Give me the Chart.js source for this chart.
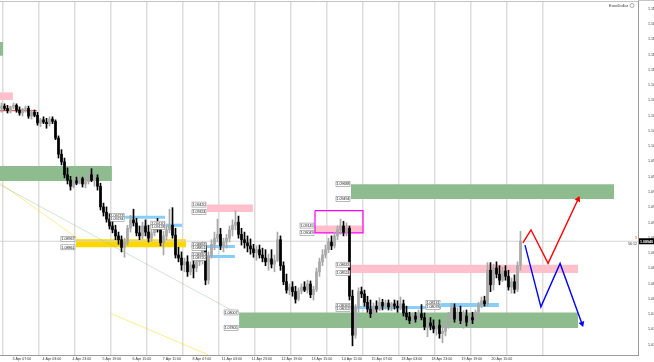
<!DOCTYPE html>
<html><head><meta charset="utf-8">
<script src="https://cdn.jsdelivr.net/npm/chart.js@4.4.1/dist/chart.umd.min.js"></script>
<style>html,body{margin:0;padding:0;background:#fff}canvas{display:block}</style>
</head><body>
<canvas id="c" width="654" height="362"></canvas>
<script>
// ---------- DATA ----------
// EURUSD H1, one candle per two hours
const opens=[1.1068,1.1071,1.1068,1.1065,1.1070,1.1072,1.1066,1.1062,1.1067,1.1068,
1.1058,1.1063,1.1059,1.1049,1.1053,1.1050,1.1048,1.1054,1.1051,1.1029,
1.1008,1.0998,1.0981,1.0974,1.0966,1.0973,1.0970,1.0976,1.0969,1.0972,
1.0981,1.0974,1.0977,1.0966,1.0939,1.0932,1.0923,1.0914,1.0909,1.0901,
1.0896,1.0886,1.0893,1.0911,1.0922,1.0918,1.0905,1.0901,1.0914,1.0906,
1.0898,1.0905,1.0915,1.0910,1.0892,1.0901,1.0909,1.0915,1.0902,1.0876,
1.0872,1.0863,1.0867,1.0854,1.0863,1.0859,1.0867,1.0872,1.0888,1.0843,
1.0875,1.0890,1.0898,1.0903,1.0888,1.0893,1.0898,1.0909,1.0915,1.0919,
1.0903,1.0896,1.0892,1.0888,1.0884,1.0879,1.0883,1.0876,1.0872,1.0867,
1.0871,1.0864,1.0869,1.0896,1.0862,1.0841,1.0830,1.0834,1.0828,1.0818,
1.0829,1.0834,1.0830,1.0838,1.0824,1.0831,1.0854,1.0867,1.0876,1.0883,
1.0893,1.0888,1.0901,1.0909,1.0914,1.0906,1.0911,1.0822,1.0771,1.0807,
1.0828,1.0825,1.0814,1.0805,1.0799,1.0809,1.0805,1.0814,1.0809,1.0813,
1.0808,1.0812,1.0809,1.0807,1.0812,1.0800,1.0795,1.0790,1.0796,1.0792,
1.0799,1.0794,1.0782,1.0787,1.0783,1.0779,1.0784,1.0773,1.0776,1.0784,
1.0797,1.0807,1.0792,1.0801,1.0790,1.0796,1.0788,1.0794,1.0791,1.0801,
1.0811,1.0816,1.0812,1.0856,1.0837,1.0859,1.0851,1.0843,1.0855,1.0848,
1.0834,1.0841,1.0831,1.0862];
const highs=[1.1075,1.1074,1.1072,1.1071,1.1075,1.1074,1.1070,1.1068,1.1071,1.1071,
1.1066,1.1066,1.1063,1.1055,1.1057,1.1055,1.1057,1.1057,1.1053,1.1032,
1.1014,1.1003,1.0990,1.0979,1.0976,1.0978,1.0979,1.0978,1.0976,1.0986,
1.0989,1.0982,1.0981,1.0970,1.0944,1.0939,1.0930,1.0920,1.0915,1.0906,
1.0901,1.0898,1.0915,1.0928,1.0936,1.0924,1.0914,1.0919,1.0922,1.0915,
1.0909,1.0920,1.0924,1.0917,1.0907,1.0914,1.0936,1.0938,1.0911,1.0886,
1.0880,1.0872,1.0875,1.0867,1.0869,1.0876,1.0876,1.0893,1.0892,1.0880,
1.0896,1.0906,1.0923,1.0911,1.0898,1.0903,1.0914,1.0922,1.0934,1.0927,
1.0911,1.0906,1.0901,1.0897,1.0890,1.0888,1.0889,1.0885,1.0883,1.0877,
1.0883,1.0876,1.0906,1.0901,1.0867,1.0851,1.0838,1.0841,1.0835,1.0833,
1.0838,1.0841,1.0843,1.0842,1.0835,1.0859,1.0872,1.0883,1.0889,1.0898,
1.0901,1.0906,1.0914,1.0923,1.0920,1.0918,1.0914,1.0830,1.0811,1.0833,
1.0834,1.0830,1.0822,1.0817,1.0813,1.0816,1.0820,1.0818,1.0817,1.0817,
1.0814,1.0817,1.0816,1.0821,1.0817,1.0809,1.0801,1.0800,1.0801,1.0804,
1.0811,1.0800,1.0795,1.0794,1.0791,1.0788,1.0791,1.0783,1.0788,1.0801,
1.0813,1.0812,1.0807,1.0809,1.0803,1.0804,1.0799,1.0801,1.0804,1.0814,
1.0821,1.0822,1.0866,1.0866,1.0864,1.0867,1.0862,1.0860,1.0862,1.0856,
1.0846,1.0850,1.0867,1.0907];
const lows=[1.1063,1.1066,1.1062,1.1062,1.1067,1.1063,1.1059,1.1058,1.1063,1.1055,
1.1054,1.1057,1.1046,1.1044,1.1048,1.1042,1.1045,1.1048,1.1027,1.1003,
1.0994,1.0977,1.0969,1.0961,1.0964,1.0968,1.0969,1.0965,1.0964,1.0969,
1.0972,1.0966,1.0961,1.0935,1.0927,1.0919,1.0910,1.0905,1.0896,1.0890,
1.0880,1.0873,1.0889,1.0906,1.0914,1.0901,1.0896,1.0897,1.0901,1.0893,
1.0894,1.0901,1.0906,1.0888,1.0876,1.0896,1.0905,1.0898,1.0872,1.0867,
1.0856,1.0854,1.0848,1.0850,1.0846,1.0854,1.0862,1.0864,1.0837,1.0838,
1.0872,1.0883,1.0893,1.0883,1.0880,1.0885,1.0893,1.0901,1.0909,1.0898,
1.0889,1.0885,1.0880,1.0877,1.0873,1.0869,1.0872,1.0867,1.0862,1.0856,
1.0859,1.0854,1.0867,1.0856,1.0837,1.0826,1.0824,1.0822,1.0813,1.0816,
1.0825,1.0828,1.0826,1.0820,1.0817,1.0828,1.0848,1.0862,1.0872,1.0879,
1.0883,1.0885,1.0896,1.0903,1.0901,1.0901,1.0817,1.0757,1.0767,1.0801,
1.0820,1.0809,1.0801,1.0794,1.0796,1.0801,1.0803,1.0804,1.0805,1.0804,
1.0803,1.0805,1.0801,1.0804,1.0796,1.0791,1.0786,1.0786,1.0788,1.0787,
1.0791,1.0778,1.0769,1.0778,1.0774,1.0771,1.0767,1.0761,1.0770,1.0780,
1.0793,1.0788,1.0784,1.0786,1.0780,1.0783,1.0782,1.0786,1.0788,1.0797,
1.0807,1.0809,1.0809,1.0828,1.0830,1.0846,1.0837,1.0841,1.0843,1.0830,
1.0826,1.0826,1.0828,1.0856];
const closes=[1.1071,1.1068,1.1065,1.1070,1.1072,1.1066,1.1062,1.1067,1.1068,1.1058,
1.1063,1.1059,1.1049,1.1053,1.1050,1.1048,1.1054,1.1051,1.1029,1.1008,
1.0998,1.0981,1.0974,1.0966,1.0973,1.0970,1.0976,1.0969,1.0972,1.0981,
1.0974,1.0977,1.0966,1.0939,1.0932,1.0923,1.0914,1.0909,1.0901,1.0896,
1.0886,1.0893,1.0911,1.0922,1.0918,1.0905,1.0901,1.0914,1.0906,1.0898,
1.0905,1.0915,1.0910,1.0892,1.0901,1.0909,1.0915,1.0902,1.0876,1.0872,
1.0863,1.0867,1.0854,1.0863,1.0859,1.0867,1.0872,1.0888,1.0843,1.0875,
1.0890,1.0898,1.0903,1.0888,1.0893,1.0898,1.0909,1.0915,1.0919,1.0903,
1.0896,1.0892,1.0888,1.0884,1.0879,1.0883,1.0876,1.0872,1.0867,1.0871,
1.0864,1.0869,1.0896,1.0862,1.0841,1.0830,1.0834,1.0828,1.0818,1.0829,
1.0834,1.0830,1.0838,1.0824,1.0831,1.0854,1.0867,1.0876,1.0883,1.0893,
1.0888,1.0901,1.0909,1.0914,1.0906,1.0911,1.0822,1.0771,1.0807,1.0828,
1.0825,1.0814,1.0805,1.0799,1.0809,1.0805,1.0814,1.0809,1.0813,1.0808,
1.0812,1.0809,1.0807,1.0812,1.0800,1.0795,1.0790,1.0796,1.0792,1.0799,
1.0794,1.0782,1.0787,1.0783,1.0779,1.0784,1.0773,1.0776,1.0784,1.0797,
1.0807,1.0792,1.0801,1.0790,1.0796,1.0788,1.0794,1.0791,1.0801,1.0811,
1.0816,1.0812,1.0856,1.0837,1.0859,1.0851,1.0843,1.0855,1.0848,1.0834,
1.0841,1.0831,1.0862,1.0894];

// time axis labels (at candle index)
const timeLabels=["3 Apr 07:00","4 Apr 03:00","4 Apr 23:00","5 Apr 19:00","6 Apr 15:00","7 Apr 11:00","8 Apr 07:00","11 Apr 03:00","11 Apr 23:00","12 Apr 19:00","13 Apr 15:00","14 Apr 11:00","15 Apr 07:00","18 Apr 03:00","18 Apr 23:00","19 Apr 19:00","20 Apr 15:00"];
const timeLabelAt=[6.8,16.8,26.8,36.8,46.8,56.8,66.8,76.8,86.8,96.8,106.8,116.8,126.8,136.8,146.8,156.8,166.8];
const gridAt=[0.5,12.5,24.5,36.5,48.5,60.5,72.5,84.5,96.5,108.5,120.5,132.5,144.5,156.5,168.5,180.5];
const priceTicks=[1.11985,1.11785,1.11585,1.11385,1.11185,1.10985,1.10785,1.10585,1.10385,1.10185,1.09985,1.09785,1.09585,1.09385,1.09185,1.08985,1.08785,1.08585,1.08385,1.08185,1.07985,1.07785,1.07585];

// zones (start/end in candle index, price high/low)
const zoneStart=[-0.5,-0.5,-0.5,24.8,41.2,54.8,68.5,68.5,68.5,104.5,116.5,116.5,116.5,146.5,79.2];
const zoneEnd=[0.5,3.8,36.8,61.5,54.5,60.2,83.8,77.8,77.8,120.5,204.2,192.2,146.5,165.8,192.2];
const zoneHigh=[1.11550,1.10890,1.09925,1.08967,1.09273,1.09170,1.09420,1.08891,1.08760,1.09145,1.09688,1.08633,1.08092,1.08131,1.08007];
const zoneLow=[1.11370,1.10790,1.09729,1.08861,1.09234,1.09128,1.09324,1.08851,1.08720,1.09049,1.09494,1.08524,1.08052,1.08078,1.07805];
const zoneKind=["green","pink","green","gold","blue","blue","pink","blue","blue","pink","green","pink","blue","blue","green"];
const zoneTagged=[0,0,0,1,1,1,1,1,1,1,1,1,1,1,1];

// frame around the last supply zone
const frameStart=104.5, frameEnd=120.5, frameHigh=1.09340, frameLow=1.09049;

// trend lines
const trendGreenX=[-0.5,77.8], trendGreenY=[1.09680,1.08013];
const trendGold1X=[-0.5,25.2], trendGold1Y=[1.09703,1.08982];
const trendGold2X=[36.2,69.0], trendGold2Y=[1.07999,1.07450];
const redLevelX=[-0.5,11.8], redLevelY=[1.1065,1.1065];

// projected paths
const bullPathX=[173.8,176.5,182.2,192.2], bullPathY=[1.0892,1.0909,1.0865,1.0949];
const bearPathX=[174.5,179.8,186.2,193.5], bearPathY=[1.0889,1.0808,1.0865,1.0786];

// ---------- STYLE ----------
const palette={green:'rgb(143,188,143)',pink:'rgb(255,192,203)',gold:'rgb(255,215,0)',blue:'rgb(135,206,250)'};
const BULL='#a8a8a8', BEAR='#000000';
const FONT='"Liberation Sans", "DejaVu Sans", sans-serif';
const X_MIN=-0.5, X_MAX=212.17, Y_MIN=1.0745, Y_MAX=1.12087;

const pts=(xs,ys)=>xs.map((x,i)=>({x:x,y:ys[i]}));
const datasets=[];

zoneStart.forEach((s,i)=>{
  datasets.push({type:'line',data:[{x:s,y:zoneHigh[i]},{x:zoneEnd[i],y:zoneHigh[i]}],
    fill:{value:zoneLow[i]},backgroundColor:palette[zoneKind[i]],borderWidth:0,pointRadius:0,order:20});
});
datasets.push({type:'line',data:[{x:frameStart,y:frameHigh},{x:frameEnd,y:frameHigh},{x:frameEnd,y:frameLow},{x:frameStart,y:frameLow},{x:frameStart,y:frameHigh}],
  borderColor:'#ff00ff',borderWidth:1.2,pointRadius:0,fill:false,order:19});
datasets.push({type:'line',data:pts(trendGreenX,trendGreenY),borderColor:'rgba(143,188,143,0.4)',borderWidth:1,pointRadius:0,fill:false,order:18});
datasets.push({type:'line',data:pts(trendGold1X,trendGold1Y),borderColor:'rgba(255,215,0,0.45)',borderWidth:1,pointRadius:0,fill:false,order:18});
datasets.push({type:'line',data:pts(trendGold2X,trendGold2Y),borderColor:'rgba(255,215,0,0.45)',borderWidth:1,pointRadius:0,fill:false,order:18});
datasets.push({type:'line',data:pts(redLevelX,redLevelY),borderColor:'#e03030',borderWidth:1,pointRadius:0,fill:false,order:18});
const last=closes[closes.length-1];
datasets.push({type:'line',data:[{x:X_MIN,y:last},{x:X_MAX,y:last}],borderColor:'#d4d4d4',borderWidth:1,pointRadius:0,fill:false,order:17});
const candleColor=c=>closes[c.dataIndex]>=opens[c.dataIndex]?BULL:BEAR;
datasets.push({type:'bar',data:lows.map((l,i)=>({x:i,y:[l,highs[i]]})),backgroundColor:candleColor,barThickness:1,grouped:false,borderWidth:0,order:4});
datasets.push({type:'bar',data:opens.map((o,i)=>({x:i,y:[o,closes[i]]})),backgroundColor:candleColor,barThickness:2,grouped:false,borderWidth:0,minBarLength:1,order:3});
datasets.push({type:'line',data:pts(bullPathX,bullPathY),borderColor:'#ff0000',borderWidth:1.4,fill:false,
  pointRadius:[0,0,0,3.5],pointStyle:'triangle',pointRotation:[0,0,0,25],pointBackgroundColor:'#ff0000',pointBorderWidth:0,order:1});
datasets.push({type:'line',data:pts(bearPathX,bearPathY),borderColor:'#0000ff',borderWidth:1.4,fill:false,
  pointRadius:[0,0,0,3.5],pointStyle:'triangle',pointRotation:[0,0,0,160],pointBackgroundColor:'#0000ff',pointBorderWidth:0,order:1});

const labelPlugin={
  id:'zoneLabels',
  afterDatasetsDraw(chart){
    const {ctx,scales:{x,y}}=chart;
    ctx.save();
    ctx.font='3.6px '+FONT;
    ctx.textAlign='center';ctx.textBaseline='middle';
    const tag=(px,price)=>{
      const py=y.getPixelForValue(price), w=14, h=5;
      ctx.fillStyle='#fff';ctx.fillRect(px-w-1,py-h/2,w,h);
      ctx.strokeStyle='#8a8a8a';ctx.lineWidth=0.6;ctx.strokeRect(px-w-1,py-h/2,w,h);
      ctx.fillStyle='#111';ctx.fillText(price.toFixed(5),px-w/2-1,py+0.3);
    };
    zoneStart.forEach((s,i)=>{
      if(!zoneTagged[i])return;
      const px=x.getPixelForValue(s);
      tag(px,zoneHigh[i]);tag(px,zoneLow[i]);
    });
    ctx.restore();
  },
  afterDraw(chart){
    const {ctx,chartArea,scales:{x,y}}=chart;
    ctx.save();
    // time labels under the axis, placed with the x scale
    ctx.fillStyle='#333';ctx.font='3.6px '+FONT;ctx.textAlign='center';ctx.textBaseline='middle';
    timeLabelAt.forEach((v,i)=>{ctx.fillText(timeLabels[i],x.getPixelForValue(v),chartArea.bottom+3.5);});
    ctx.strokeStyle='#c4c4c4';ctx.lineWidth=1;ctx.beginPath();ctx.moveTo(chartArea.right,chartArea.top-0.5);ctx.lineTo(654,chartArea.top-0.5);ctx.stroke();
    const py=y.getPixelForValue(last);
    ctx.fillStyle='#000';ctx.fillRect(chartArea.right+1,py-3,15,6);
    ctx.fillStyle='#fff';ctx.font='bold 3.6px '+FONT;ctx.textAlign='left';ctx.textBaseline='middle';
    ctx.fillText(last.toFixed(5),chartArea.right+2,py+0.3);
    ctx.fillStyle='#ff6a00';ctx.font='4px '+FONT;ctx.textAlign='right';
    ctx.fillText('3',chartArea.right-1,py-3);
    ctx.fillStyle='#333';ctx.font='3.6px '+FONT;
    ctx.fillText('56:12',chartArea.right-1,py+3);
    ctx.fillStyle='#333';ctx.font='4px '+FONT;ctx.textAlign='right';
    ctx.fillText('EuroDollar',chartArea.right-10,6);
    ctx.strokeStyle='#777';ctx.lineWidth=0.6;ctx.beginPath();ctx.arc(chartArea.right-6,5.5,2,0,Math.PI*2);ctx.stroke();
    ctx.restore();
  }
};

const noPad=s=>{s.paddingTop=0;s.paddingBottom=0;s.paddingLeft=0;s.paddingRight=0;};

new Chart(document.getElementById('c'),{
  type:'bar',
  data:{datasets:datasets},
  options:{
    responsive:false,animation:false,devicePixelRatio:1,
    layout:{padding:0,autoPadding:false},
    plugins:{legend:{display:false},tooltip:{enabled:false}},
    scales:{
      x:{type:'linear',position:'bottom',min:X_MIN,max:X_MAX,offset:false,display:true,
        grid:{display:false,offset:false},border:{display:true,color:'#9a9a9a',width:1},
        afterBuildTicks:s=>{s.ticks=timeLabelAt.map(v=>({value:v}));},
        afterFit:s=>{s.height=7;noPad(s);},
        ticks:{display:false}},
      xg:{type:'linear',position:'top',min:X_MIN,max:X_MAX,offset:false,
        grid:{color:'#dddddd',lineWidth:1.5,drawTicks:false,offset:false},border:{display:true,color:'#c4c4c4',width:1},
        ticks:{display:false},
        afterBuildTicks:s=>{s.ticks=gridAt.map(v=>({value:v}));},
        afterFit:s=>{s.height=1;noPad(s);}},
      y:{type:'linear',position:'right',min:Y_MIN,max:Y_MAX,
        grid:{display:false},border:{display:true,color:'#9a9a9a',width:1},
        afterBuildTicks:s=>{s.ticks=priceTicks.map(v=>({value:v}));},
        afterFit:s=>{s.width=16;noPad(s);},
        ticks:{padding:2,color:'#333',font:{size:3.6,family:FONT,lineHeight:1},callback:v=>v.toFixed(5)}}
    }
  },
  plugins:[labelPlugin]
});
</script>
</body></html>
